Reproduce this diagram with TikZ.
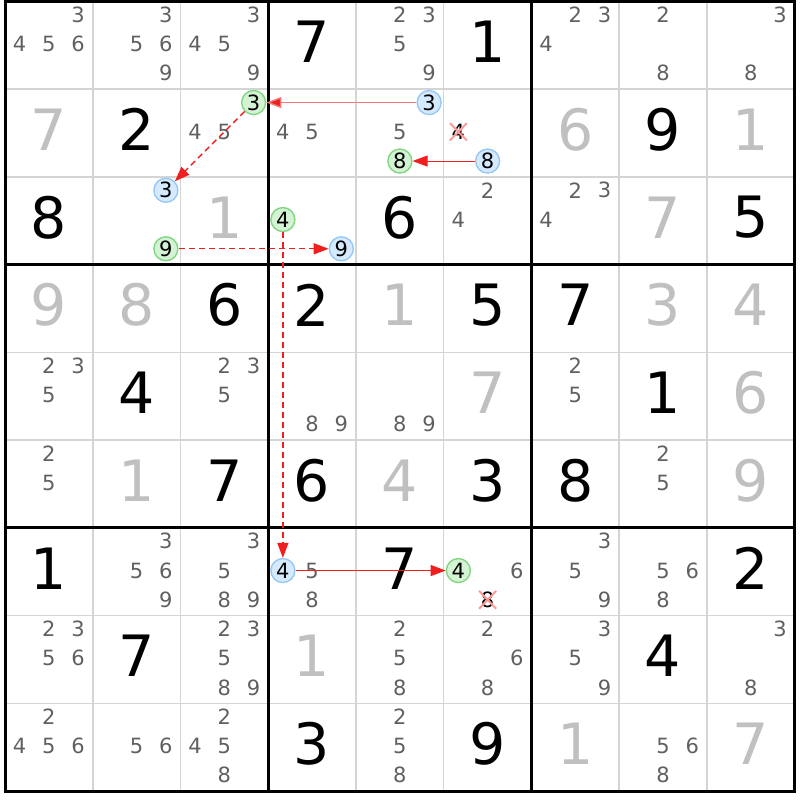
\documentclass[tikz,border=0pt]{standalone}
\usepackage{fontspec}
\setmainfont{DejaVu Sans}
\usepackage{xcolor}
\usetikzlibrary{arrows.meta,shapes.misc}

\definecolor{solvedgray}{RGB}{192,192,192}
\definecolor{candgray}{RGB}{96,96,96}
\definecolor{gridgray}{RGB}{212,212,212}
\definecolor{blueback}{RGB}{214,234,255}
\definecolor{blueline}{RGB}{150,200,245}
\definecolor{greenback}{RGB}{212,242,212}
\definecolor{greenline}{RGB}{130,214,130}
\definecolor{linkred}{RGB}{240,30,30}

% one candidate digit d of cell (col,row), placed in its small 3x3 slot
\newcommand{\cand}[4][cand]{%
  \pgfmathsetmacro{\cx}{#2-1+(mod(#4-1,3)+0.5)/3}%
  \pgfmathsetmacro{\cy}{#3-1+(floor((#4-1)/3)+0.5)/3-0.015}%
  \node[#1] (p#2#3#4) at (\cx,\cy) {#4};}
\newcommand{\cands}[3]{\foreach \d in {#3}{\cand{#1}{#2}{\d}}}

\begin{document}
\begin{tikzpicture}[x=87.75pt,y=-87.75pt,
    given/.style={font=\fontsize{57}{60}\selectfont, text=black, inner sep=0pt},
    solved/.style={given, text=solvedgray},
    cand/.style={font=\fontsize{21}{24}\selectfont, text=candgray, inner sep=0pt},
    bluecand/.style={cand, text=black, circle, draw=blueline, fill=blueback, line width=1.4pt, minimum size=24pt},
    greencand/.style={bluecand, draw=greenline, fill=greenback},
    crossed/.style={cand, text=black, cross out, draw=red!40, line width=2pt, minimum size=15pt},
    strong/.style={draw=linkred, line width=1.4pt, -{Triangle[length=15pt,width=11pt,fill=linkred]}},
    weak/.style={strong, dash pattern=on 6pt off 4pt}]

    \useasboundingbox (-0.057,-0.017) rectangle (9.060,9.100);

    % grid
    \foreach \i in {1,2,4,5,7,8} {
        \draw[gridgray, line width=1.5pt] (\i,0) -- (\i,9);
        \draw[gridgray, line width=1.5pt] (0,\i) -- (9,\i);
    }
    \foreach \i in {0,3,6,9} {
        \draw[black, line width=3pt] (\i,-0.017) -- (\i,9.017);
        \draw[black, line width=3pt] (-0.017,\i) -- (9.017,\i);
    }

    % values: col/row/digit/style
    \foreach \c/\r/\d/\s in {4/1/7/given, 6/1/1/given,
            1/2/7/solved, 2/2/2/given, 7/2/6/solved, 8/2/9/given, 9/2/1/solved,
            1/3/8/given, 3/3/1/solved, 5/3/6/given, 8/3/7/solved, 9/3/5/given,
            1/4/9/solved, 2/4/8/solved, 3/4/6/given, 4/4/2/given, 5/4/1/solved,
            6/4/5/given, 7/4/7/given, 8/4/3/solved, 9/4/4/solved,
            2/5/4/given, 6/5/7/solved, 8/5/1/given, 9/5/6/solved,
            2/6/1/solved, 3/6/7/given, 4/6/6/given, 5/6/4/solved, 6/6/3/given,
            7/6/8/given, 9/6/9/solved,
            1/7/1/given, 5/7/7/given, 9/7/2/given,
            2/8/7/given, 4/8/1/solved, 8/8/4/given,
            4/9/3/given, 6/9/9/given, 7/9/1/solved, 9/9/7/solved}
        \node[\s] (v\c\r) at (\c-0.5,\r-0.54) {\d};

    % candidates
    \cands{1}{1}{3,4,5,6} \cands{2}{1}{3,5,6,9} \cands{3}{1}{3,4,5,9} \cands{5}{1}{2,3,5,9}
    \cands{7}{1}{2,3,4} \cands{8}{1}{2,8} \cands{9}{1}{3,8}

    \cands{3}{2}{4,5} \cand[greencand]{3}{2}{3} \cands{4}{2}{4,5} \cands{5}{2}{5}
    \cand[bluecand]{5}{2}{3} \cand[greencand]{5}{2}{8} \cand[crossed]{6}{2}{4} \cand[bluecand]{6}{2}{8}

    \cand[bluecand]{2}{3}{3} \cand[greencand]{2}{3}{9} \cand[greencand]{4}{3}{4} \cand[bluecand]{4}{3}{9}
    \cands{6}{3}{2,4} \cands{7}{3}{2,3,4}

    \cands{1}{5}{2,3,5} \cands{3}{5}{2,3,5} \cands{4}{5}{8,9} \cands{5}{5}{8,9} \cands{7}{5}{2,5}
    \cands{1}{6}{2,5} \cands{8}{6}{2,5}

    \cands{2}{7}{3,5,6,9} \cands{3}{7}{3,5,8,9} \cand[bluecand]{4}{7}{4} \cands{4}{7}{5,8}
    \cand[greencand]{6}{7}{4} \cands{6}{7}{6} \cand[crossed]{6}{7}{8} \cands{7}{7}{3,5,9} \cands{8}{7}{5,6,8}

    \cands{1}{8}{2,3,5,6} \cands{3}{8}{2,3,5,8,9} \cands{5}{8}{2,5,8} \cands{6}{8}{2,6,8}
    \cands{7}{8}{3,5,9} \cands{9}{8}{3,8}

    \cands{1}{9}{2,4,5,6} \cands{2}{9}{5,6} \cands{3}{9}{2,4,5,8} \cands{5}{9}{2,5,8} \cands{8}{9}{5,6,8}

    % chain
    \draw[strong, draw=linkred!60] (p523) -- (p323);
    \draw[weak] (p323) -- (p233);
    \draw[weak] (p239) -- (p439);
    \draw[weak] (p434) -- (p474);
    \draw[strong] (p474) -- (p674);
    \draw[strong, line width=1pt] (p628) -- (p528);
\end{tikzpicture}
\end{document}
